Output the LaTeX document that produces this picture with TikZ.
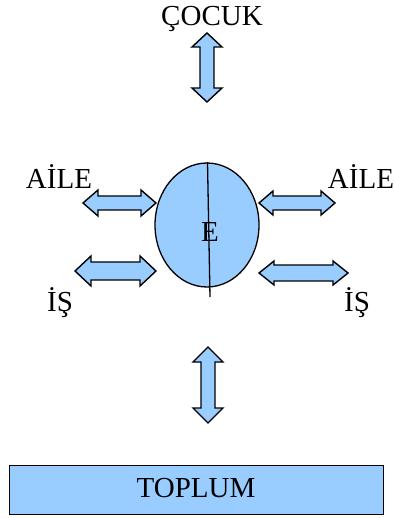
\documentclass[tikz,border=0pt]{standalone}
\usepackage{fontspec}
\setmainfont{Liberation Serif}
\definecolor{lblue}{HTML}{99CCFF}
\newcommand\hdarr[6]{% x1 x2 y headhalf shafthalf headlen
  \draw[arr] (#1,#3) -- ({#1+#6},{#3-#4}) -- ({#1+#6},{#3-#5}) -- ({#2-#6},{#3-#5}) -- ({#2-#6},{#3-#4}) -- (#2,#3)
    -- ({#2-#6},{#3+#4}) -- ({#2-#6},{#3+#5}) -- ({#1+#6},{#3+#5}) -- ({#1+#6},{#3+#4}) -- cycle;}
\newcommand\vdarr[6]{% y1 y2 x headhalf shafthalf headlen
  \draw[arr] (#3,#1) -- ({#3-#4},{#1+#6}) -- ({#3-#5},{#1+#6}) -- ({#3-#5},{#2-#6}) -- ({#3-#4},{#2-#6}) -- (#3,#2)
    -- ({#3+#4},{#2-#6}) -- ({#3+#5},{#2-#6}) -- ({#3+#5},{#1+#6}) -- ({#3+#4},{#1+#6}) -- cycle;}
\begin{document}
\begin{tikzpicture}[x=1pt,y=-1pt,
  arr/.style={draw=black,fill=lblue,line width=1.4pt,line join=miter},
  lbl/.style={font=\fontsize{29pt}{32pt}\selectfont,inner sep=0pt}]
\useasboundingbox (0,0) rectangle (393,518);
\node[lbl] (cocuk) at (212,19) {ÇOCUK};
\vdarr{33}{102}{207}{15}{7}{14}
\draw[line width=1.3pt,fill=lblue] (207,225) ellipse [x radius=52pt,y radius=62pt];
\node[lbl] (e) at (210,232) {E};
\coordinate (ltop) at (207.5,162);
\coordinate (lbot) at (210,297);
\draw[line width=1.3pt] (ltop) -- (lbot);
\node[lbl] (ailel) at (59,177) {AİLE};
\node[lbl] (ailer) at (361,177) {AİLE};
\node[lbl] (isl) at (60,303) {İŞ};
\node[lbl] (isr) at (357,303) {İŞ};
\hdarr{83}{156}{203}{13}{7}{15}
\hdarr{75}{156}{271}{15}{9}{16}
\hdarr{259}{335}{203}{12}{7}{14}
\hdarr{259}{348}{273}{12}{8}{15}
\vdarr{347}{423}{208}{15}{7}{15}
\node[draw=black,line width=0.8pt,fill=lblue,minimum width=374pt,minimum height=49pt,inner sep=0pt] (toplum) at (196,489.5) {};
\node[lbl] (tt) at (196,488) {TOPLUM};
\end{tikzpicture}
\end{document}
